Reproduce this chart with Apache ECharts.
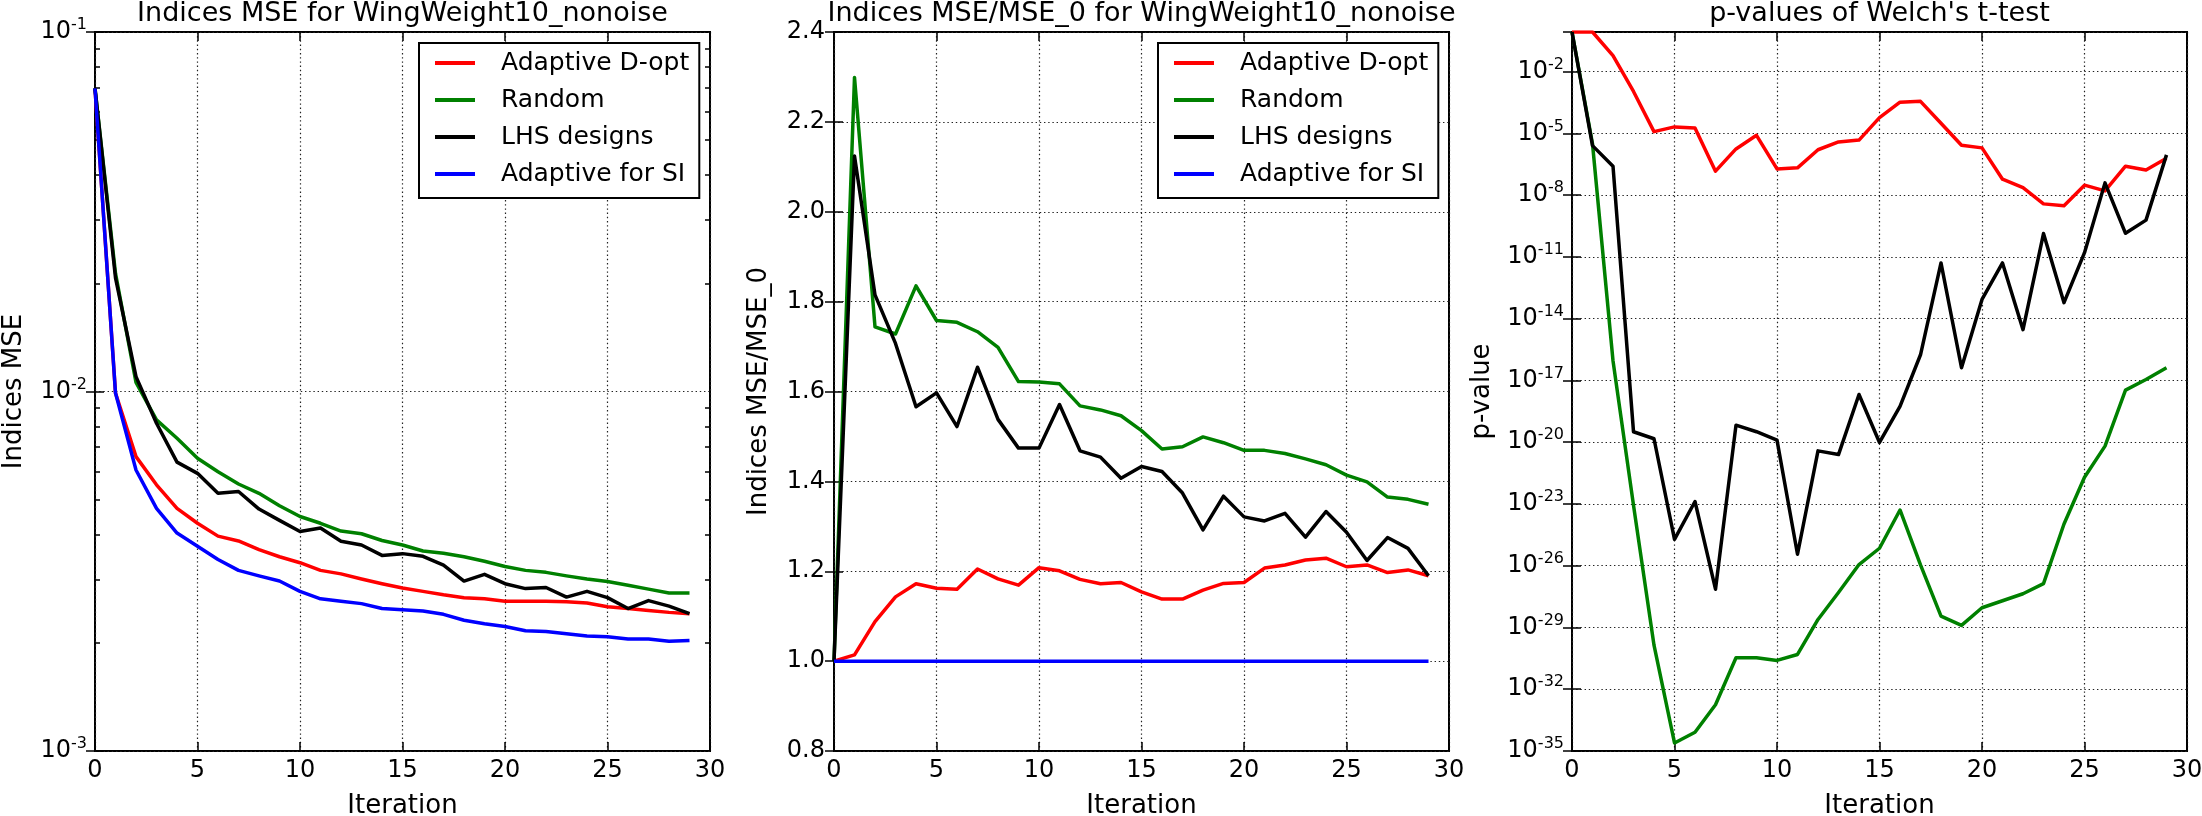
<!DOCTYPE html>
<html>
<head>
<meta charset="utf-8">
<script src="https://cdn.jsdelivr.net/npm/echarts@6.0.0/dist/echarts.min.js"></script>
<style>
  html, body { margin: 0; padding: 0; background: #fff; }
  #chart { width: 2202px; height: 816px; }
</style>
</head>
<body>
<div id="chart"></div>
<script>
const FONT = 'DejaVu Sans';

const iterations = [0, 1, 2, 3, 4, 5, 6, 7, 8, 9, 10, 11, 12, 13, 14, 15, 16, 17, 18, 19, 20, 21, 22, 23, 24, 25, 26, 27, 28, 29];
const seriesNames = ['Adaptive D-opt', 'Random', 'LHS designs', 'Adaptive for SI'];
const seriesColors = ['#ff0000', '#008000', '#000000', '#0000ff'];

// panel 1: indices MSE (log scale)
const mseDopt = [0.0697, 0.0099, 0.00659, 0.0055, 0.00473, 0.0043, 0.00396, 0.00384, 0.00363, 0.00347, 0.00334, 0.00318, 0.00311, 0.00301, 0.00292, 0.00284, 0.00278, 0.00272, 0.00267, 0.00265, 0.00261, 0.00261, 0.00261, 0.0026, 0.00258, 0.00252, 0.00249, 0.00246, 0.00243, 0.00241];
const mseRandom = [0.0697, 0.0213, 0.0106, 0.00834, 0.00741, 0.00652, 0.00598, 0.00553, 0.00521, 0.00481, 0.00449, 0.0043, 0.00409, 0.00402, 0.00385, 0.00374, 0.0036, 0.00355, 0.00347, 0.00337, 0.00326, 0.00318, 0.00314, 0.00307, 0.00301, 0.00296, 0.00289, 0.00282, 0.00275, 0.00275];
const mseLhs = [0.0697, 0.0207, 0.011, 0.00816, 0.00636, 0.00592, 0.00521, 0.00527, 0.00471, 0.00438, 0.00408, 0.00417, 0.00383, 0.00374, 0.0035, 0.00354, 0.00348, 0.00329, 0.00297, 0.0031, 0.00292, 0.00283, 0.00285, 0.00268, 0.00278, 0.00267, 0.00249, 0.00262, 0.00253, 0.00241];
const mseSI = [0.0697, 0.0099, 0.00605, 0.00473, 0.00404, 0.00371, 0.00341, 0.00318, 0.00307, 0.00297, 0.00278, 0.00265, 0.00261, 0.00257, 0.00249, 0.00247, 0.00245, 0.0024, 0.00231, 0.00226, 0.00222, 0.00216, 0.00215, 0.00212, 0.00209, 0.00208, 0.00205, 0.00205, 0.00202, 0.00203];
const mseMinorTicks = [0.002, 0.003, 0.004, 0.005, 0.006, 0.007, 0.008, 0.009, 0.02, 0.03, 0.04, 0.05, 0.06, 0.07, 0.08, 0.09];

// panel 2: MSE / MSE_0
const ratioDopt = [1.0, 1.014, 1.088, 1.143, 1.172, 1.162, 1.16, 1.205, 1.183, 1.169, 1.208, 1.201, 1.182, 1.172, 1.175, 1.154, 1.138, 1.138, 1.158, 1.173, 1.175, 1.207, 1.214, 1.225, 1.229, 1.21, 1.214, 1.197, 1.203, 1.19];
const ratioRandom = [1.0, 2.299, 1.744, 1.728, 1.835, 1.758, 1.754, 1.733, 1.698, 1.622, 1.621, 1.617, 1.568, 1.559, 1.546, 1.513, 1.472, 1.477, 1.499, 1.486, 1.469, 1.469, 1.462, 1.45, 1.437, 1.414, 1.399, 1.365, 1.36, 1.349];
const ratioLhs = [1.0, 2.124, 1.815, 1.707, 1.566, 1.597, 1.522, 1.654, 1.538, 1.474, 1.474, 1.571, 1.468, 1.454, 1.407, 1.433, 1.422, 1.374, 1.292, 1.367, 1.321, 1.312, 1.329, 1.276, 1.333, 1.287, 1.224, 1.275, 1.251, 1.19];
const ratioSI = [1.0, 1.0, 1.0, 1.0, 1.0, 1.0, 1.0, 1.0, 1.0, 1.0, 1.0, 1.0, 1.0, 1.0, 1.0, 1.0, 1.0, 1.0, 1.0, 1.0, 1.0, 1.0, 1.0, 1.0, 1.0, 1.0, 1.0, 1.0, 1.0, 1.0];

// panel 3: log10 of the p-values
const pTop = -0.07;
const logpDopt = [-0.07, -0.07, -1.22, -2.96, -4.91, -4.68, -4.73, -6.83, -5.75, -5.09, -6.72, -6.67, -5.79, -5.41, -5.32, -4.23, -3.48, -3.44, -4.5, -5.57, -5.7, -7.22, -7.63, -8.42, -8.51, -7.51, -7.79, -6.59, -6.77, -6.2];
const logpRandom = [-0.07, -5.5, -16.04, -23.06, -29.86, -34.61, -34.09, -32.75, -30.47, -30.47, -30.6, -30.31, -28.61, -27.3, -25.94, -25.15, -23.29, -25.96, -28.45, -28.9, -28.04, -27.7, -27.36, -26.87, -23.97, -21.7, -20.19, -17.47, -16.95, -16.38];
const logpLhs = [-0.07, -5.59, -6.59, -19.49, -19.83, -24.72, -22.88, -27.14, -19.17, -19.49, -19.9, -25.44, -20.42, -20.6, -17.68, -20.01, -18.26, -15.75, -11.29, -16.38, -13.06, -11.29, -14.53, -9.86, -13.22, -10.79, -7.4, -9.85, -9.21, -6.04];

const titles = ['Indices MSE for WingWeight10_nonoise', 'Indices MSE/MSE_0 for WingWeight10_nonoise', "p-values of Welch's t-test"];
const yNames = ['Indices MSE', 'Indices MSE/MSE_0', 'p-value'];

const panelLeft = [95, 834, 1572];
const panelWidth = 615;
const plotTop = 32;
const plotHeight = 719;

const gridLine = { color: '#222', width: 1.2, type: [1.4, 2.8] };
const tickStyle = { color: '#000', width: 1.5 };
const supRich = {
  b: { fontSize: 24, fontFamily: FONT, color: '#000', lineHeight: 30 },
  s: { fontSize: 16, fontFamily: FONT, color: '#000', verticalAlign: 'top', lineHeight: 18 }
};
const pow10 = (v) => {
  if (Math.abs(v - Math.round(v)) > 1e-6) return '';
  return '{b|10}{s|' + Math.round(v) + '}';
};

const toPairs = (ys, f) => ys.map((v, i) => [iterations[i], f ? f(v) : v]);

const xAxes = [];
panelLeft.forEach((_, g) => {
  const base = {
    gridIndex: g, type: 'value', min: 0, max: 30, interval: 5,
    axisLine: { show: false },
    axisTick: { inside: true, length: 9, lineStyle: tickStyle }
  };
  xAxes.push({
    ...base, position: 'bottom',
    name: 'Iteration', nameLocation: 'middle', nameGap: 42,
    nameTextStyle: { fontFamily: FONT, fontSize: 26, color: '#000' },
    axisLabel: { color: '#000', fontFamily: FONT, fontSize: 24, margin: 8, showMinLabel: true, showMaxLabel: true },
    splitLine: { show: true, lineStyle: gridLine }
  });
  xAxes.push({ ...base, position: 'top', axisLabel: { show: false }, splitLine: { show: false } });
});

const yBase = (g, min, max, interval) => ({
  gridIndex: g, type: 'value', min, max, interval,
  axisLine: { show: false },
  axisTick: { inside: true, length: 9, lineStyle: tickStyle },
  splitLine: { show: false },
  axisLabel: { show: false }
});
const yName = (g, gap) => ({
  name: yNames[g], nameLocation: 'middle', nameGap: gap,
  nameTextStyle: { fontFamily: FONT, fontSize: 26, color: '#000' }
});

const yAxes = [
  // panel 1 (0..3)
  { ...yBase(0, -3, -1, 1), ...yName(0, 68), position: 'left',
    axisLabel: { formatter: pow10, rich: supRich, margin: 8, showMinLabel: true, showMaxLabel: true },
    splitLine: { show: true, lineStyle: gridLine } },
  { ...yBase(0, -3, -1, 1), position: 'right' },
  { ...yBase(0, -3, -1, 1), position: 'left',
    axisTick: { inside: true, length: 5, lineStyle: tickStyle, customValues: mseMinorTicks.map(Math.log10) } },
  { ...yBase(0, -3, -1, 1), position: 'right',
    axisTick: { inside: true, length: 5, lineStyle: tickStyle, customValues: mseMinorTicks.map(Math.log10) } },
  // panel 2 (4..5)
  { ...yBase(1, 0.8, 2.4, 0.2), ...yName(1, 62), position: 'left',
    axisLabel: { formatter: (v) => v.toFixed(1), color: '#000', fontFamily: FONT, fontSize: 24, margin: 9, showMinLabel: true, showMaxLabel: true },
    splitLine: { show: true, lineStyle: gridLine } },
  { ...yBase(1, 0.8, 2.4, 0.2), position: 'right' },
  // panel 3 (6..7)
  { ...yBase(2, -35, pTop, 3), ...yName(2, 77), position: 'left',
    axisLabel: { formatter: pow10, rich: supRich, margin: 8, showMinLabel: true, showMaxLabel: true },
    splitLine: { show: true, lineStyle: gridLine } },
  { ...yBase(2, -35, pTop, 3), position: 'right' }
];

const line = (k, data, xi, yi) => ({
  name: seriesNames[k], type: 'line', xAxisIndex: xi, yAxisIndex: yi,
  data, symbol: 'none', showSymbol: false, silent: true,
  lineStyle: { color: seriesColors[k], width: 3.5, join: 'round' },
  itemStyle: { color: seriesColors[k] }
});

const series = [
  line(0, toPairs(mseDopt, Math.log10), 0, 0),
  line(1, toPairs(mseRandom, Math.log10), 0, 0),
  line(2, toPairs(mseLhs, Math.log10), 0, 0),
  line(3, toPairs(mseSI, Math.log10), 0, 0),
  line(0, toPairs(ratioDopt), 2, 4),
  line(1, toPairs(ratioRandom), 2, 4),
  line(2, toPairs(ratioLhs), 2, 4),
  line(3, toPairs(ratioSI), 2, 4),
  line(0, toPairs(logpDopt), 4, 6),
  line(1, toPairs(logpRandom), 4, 6),
  line(2, toPairs(logpLhs), 4, 6)
];

const legendAt = (left) => ({
  data: seriesNames, orient: 'vertical', left, top: 43,
  padding: [6, 10, 10, 16], itemGap: 9,
  icon: 'rect', itemWidth: 40, itemHeight: 4,
  borderColor: '#000', borderWidth: 2, borderRadius: 0, backgroundColor: '#fff',
  selectedMode: false,
  textStyle: { fontFamily: FONT, fontSize: 25, color: '#000', lineHeight: 28, padding: [0, 0, 0, 21] }
});

const option = {
  animation: false,
  backgroundColor: '#fff',
  grid: panelLeft.map((left) => ({
    left, top: plotTop, width: panelWidth, height: plotHeight,
    outerBoundsMode: 'none',
    show: true, borderColor: '#000', borderWidth: 2, backgroundColor: 'transparent'
  })),
  xAxis: xAxes,
  yAxis: yAxes,
  legend: [legendAt(419), legendAt(1158)],
  graphic: titles.map((text, g) => ({
    type: 'text', x: panelLeft[g] + panelWidth / 2, y: 0,
    style: { text, fontFamily: FONT, fontSize: 27, fill: '#000', align: 'center', verticalAlign: 'top' }
  })),
  series
};

const chart = echarts.init(document.getElementById('chart'));
chart.setOption(option);
</script>
</body>
</html>
